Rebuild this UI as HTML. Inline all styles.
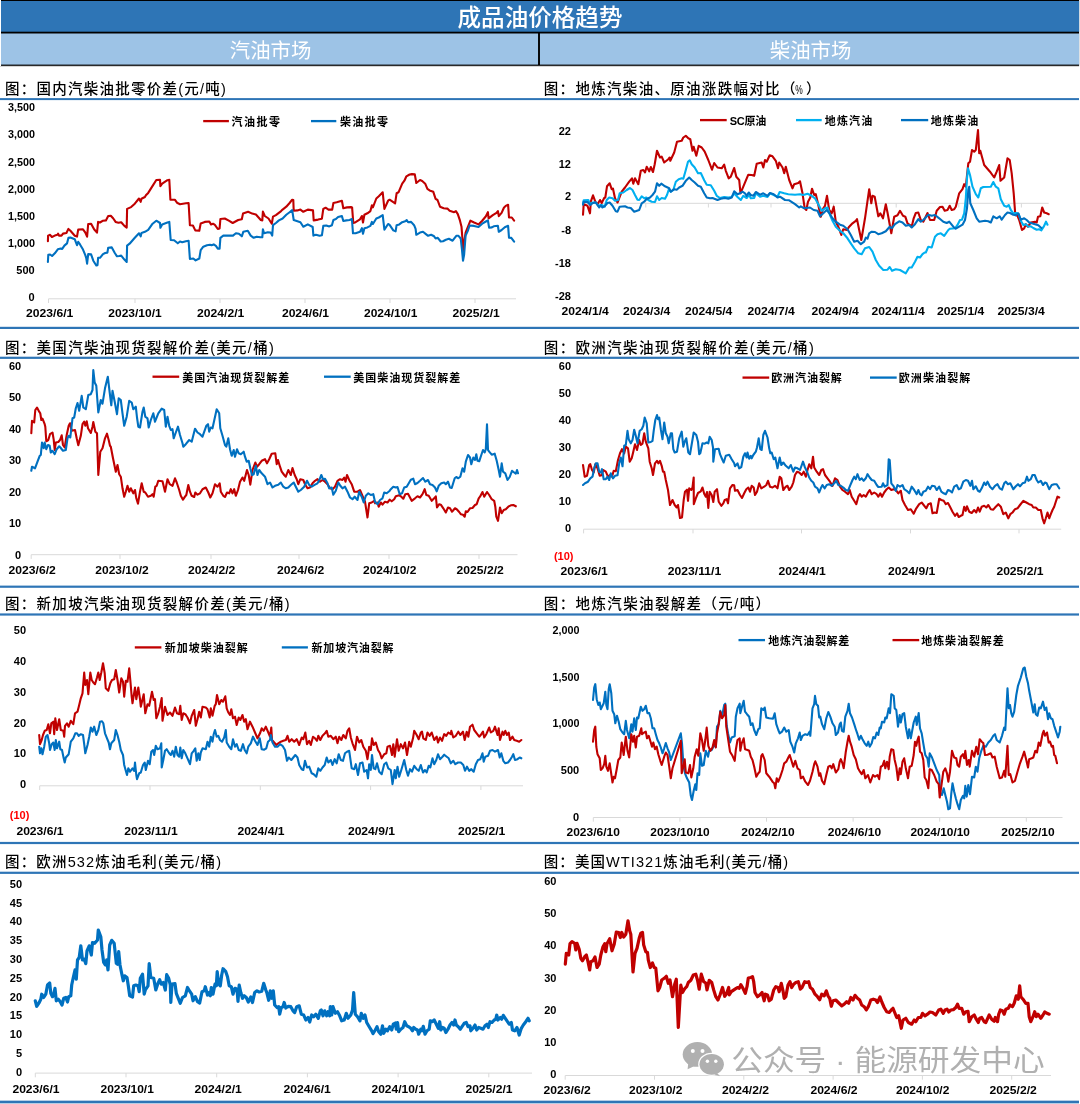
<!DOCTYPE html>
<html lang="zh-CN"><head><meta charset="utf-8"><title>成品油价格趋势</title>
<style>html,body{margin:0;padding:0;background:#fff}body{width:1080px;height:1104px;overflow:hidden}</style></head>
<body>
<svg width="1080" height="1104" viewBox="0 0 1080 1104" style="display:block;font-family:'Liberation Sans','Noto Sans CJK SC',sans-serif">
<rect width="1080" height="1104" fill="#fff"/>
<rect x="0" y="0" width="1079.1" height="33" fill="#000"/>
<rect x="1" y="1" width="1078.1" height="30.7" fill="#2E75B6"/>
<rect x="0" y="33" width="1079.1" height="32.9" fill="#000"/>
<rect x="0" y="65.9" width="1079.1" height="0.7" fill="#bbb"/>
<rect x="1" y="33.5" width="537.05" height="31.1" fill="#9DC3E6"/>
<rect x="539.95" y="33.5" width="539.15" height="31.1" fill="#9DC3E6"/>
<rect x="0" y="0" width="1" height="66" fill="#fff"/>
<text x="540.00" y="25.90" font-size="23.5" font-weight="500" fill="#fff" text-anchor="middle" textLength="165.00" lengthAdjust="spacingAndGlyphs">成品油价格趋势</text>
<text x="270.60" y="57.50" font-size="20.5" font-weight="400" fill="#fff" text-anchor="middle" textLength="81.70" lengthAdjust="spacingAndGlyphs">汽油市场</text>
<text x="810.60" y="57.50" font-size="20.5" font-weight="400" fill="#fff" text-anchor="middle" textLength="81.70" lengthAdjust="spacingAndGlyphs">柴油市场</text>
<rect x="0" y="98.10" width="1079" height="2.0" fill="#2E75B6"/>
<rect x="0" y="326.80" width="1079" height="2.2" fill="#2E75B6"/>
<rect x="0" y="356.70" width="1079" height="2.2" fill="#2E75B6"/>
<rect x="0" y="585.60" width="1079" height="2.2" fill="#2E75B6"/>
<rect x="0" y="613.40" width="1079" height="2.2" fill="#2E75B6"/>
<rect x="0" y="841.90" width="1079" height="2.2" fill="#2E75B6"/>
<rect x="0" y="871.70" width="1079" height="2.2" fill="#2E75B6"/>
<rect x="0" y="1100.65" width="1079" height="2.7" fill="#2E75B6"/>
<text x="5.00" y="94.40" font-size="14.5" font-weight="500" fill="#000" text-anchor="start" textLength="220.80" lengthAdjust="spacing">图：国内汽柴油批零价差<tspan font-weight="400">(</tspan>元<tspan font-weight="400">/</tspan>吨<tspan font-weight="400">)</tspan></text>
<text x="543.80" y="94.40" font-size="14.5" font-weight="500" fill="#000" text-anchor="start" textLength="276.70" lengthAdjust="spacing">图：地炼汽柴油、原油涨跌幅对比（<tspan font-size="12" dx="-1.5" textLength="7.5" lengthAdjust="spacingAndGlyphs">%</tspan><tspan dx="2">）</tspan></text>
<text x="5.00" y="353.10" font-size="14.5" font-weight="500" fill="#000" text-anchor="start" textLength="268.80" lengthAdjust="spacing">图：美国汽柴油现货裂解价差<tspan font-weight="400">(</tspan>美元<tspan font-weight="400">/</tspan>桶<tspan font-weight="400">)</tspan></text>
<text x="543.80" y="353.10" font-size="14.5" font-weight="500" fill="#000" text-anchor="start" textLength="270.00" lengthAdjust="spacing">图：欧洲汽柴油现货裂解价差<tspan font-weight="400">(</tspan>美元<tspan font-weight="400">/</tspan>桶<tspan font-weight="400">)</tspan></text>
<text x="5.00" y="609.40" font-size="14.5" font-weight="500" fill="#000" text-anchor="start" textLength="284.60" lengthAdjust="spacing">图：新加坡汽柴油现货裂解价差<tspan font-weight="400">(</tspan>美元<tspan font-weight="400">/</tspan>桶<tspan font-weight="400">)</tspan></text>
<text x="543.80" y="609.40" font-size="14.5" font-weight="500" fill="#000" text-anchor="start" textLength="226.20" lengthAdjust="spacing">图：地炼汽柴油裂解差（元<tspan font-weight="400">/</tspan>吨）</text>
<text x="5.00" y="867.40" font-size="14.5" font-weight="500" fill="#000" text-anchor="start" textLength="216.00" lengthAdjust="spacing">图：欧洲<tspan font-weight="400">532</tspan>炼油毛利<tspan font-weight="400">(</tspan>美元<tspan font-weight="400">/</tspan>桶<tspan font-weight="400">)</tspan></text>
<text x="543.80" y="867.40" font-size="14.5" font-weight="500" fill="#000" text-anchor="start" textLength="244.40" lengthAdjust="spacing">图：美国<tspan font-weight="400">WTI321</tspan>炼油毛利<tspan font-weight="400">(</tspan>美元<tspan font-weight="400">/</tspan>桶<tspan font-weight="400">)</tspan></text>
<text x="34.90" y="111.36" font-size="11" font-weight="700" fill="#000" text-anchor="end" textLength="26.90" lengthAdjust="spacingAndGlyphs">3,500</text>
<text x="34.90" y="138.46" font-size="11" font-weight="700" fill="#000" text-anchor="end" textLength="26.90" lengthAdjust="spacingAndGlyphs">3,000</text>
<text x="34.90" y="165.66" font-size="11" font-weight="700" fill="#000" text-anchor="end" textLength="26.90" lengthAdjust="spacingAndGlyphs">2,500</text>
<text x="34.90" y="192.76" font-size="11" font-weight="700" fill="#000" text-anchor="end" textLength="26.90" lengthAdjust="spacingAndGlyphs">2,000</text>
<text x="34.90" y="219.96" font-size="11" font-weight="700" fill="#000" text-anchor="end" textLength="26.90" lengthAdjust="spacingAndGlyphs">1,500</text>
<text x="34.90" y="247.06" font-size="11" font-weight="700" fill="#000" text-anchor="end" textLength="26.90" lengthAdjust="spacingAndGlyphs">1,000</text>
<text x="34.70" y="274.26" font-size="11" font-weight="700" fill="#000" text-anchor="end">500</text>
<text x="34.70" y="301.46" font-size="11" font-weight="700" fill="#000" text-anchor="end">0</text>
<path d="M48.5 298.8H516M48.5 298.8v4.2M135.0 298.8v4.2M220.0 298.8v4.2M305.0 298.8v4.2M390.0 298.8v4.2M475.0 298.8v4.2" stroke="#D9D9D9" stroke-width="1" fill="none"/>
<text x="49.70" y="317.46" font-size="11" font-weight="700" fill="#000" text-anchor="middle" textLength="47.20" lengthAdjust="spacingAndGlyphs">2023/6/1</text>
<text x="135.00" y="317.46" font-size="11" font-weight="700" fill="#000" text-anchor="middle" textLength="53.30" lengthAdjust="spacingAndGlyphs">2023/10/1</text>
<text x="220.70" y="317.46" font-size="11" font-weight="700" fill="#000" text-anchor="middle" textLength="47.20" lengthAdjust="spacingAndGlyphs">2024/2/1</text>
<text x="305.50" y="317.46" font-size="11" font-weight="700" fill="#000" text-anchor="middle" textLength="47.20" lengthAdjust="spacingAndGlyphs">2024/6/1</text>
<text x="390.70" y="317.46" font-size="11" font-weight="700" fill="#000" text-anchor="middle" textLength="53.30" lengthAdjust="spacingAndGlyphs">2024/10/1</text>
<text x="476.20" y="317.46" font-size="11" font-weight="700" fill="#000" text-anchor="middle" textLength="47.20" lengthAdjust="spacingAndGlyphs">2025/2/1</text>
<path d="M203.2 121.1H228.89999999999998" stroke="#C00000" stroke-width="2.3"/>
<text x="231.50" y="125.96" font-size="11" font-weight="700" fill="#000" text-anchor="start" textLength="48.50" lengthAdjust="spacing">汽油批零</text>
<path d="M311 121.1H336.3" stroke="#0070C0" stroke-width="2.3"/>
<text x="339.90" y="125.96" font-size="11" font-weight="700" fill="#000" text-anchor="start" textLength="48.10" lengthAdjust="spacing">柴油批零</text>
<polyline points="47.9,241.2 48.1,235.6 50.1,234.8 51.9,237.0 54.8,235.6 57.5,234.8 58.1,233.6 59.0,235.6 61.5,235.6 63.0,233.6 66.4,233.0 68.4,228.9 70.4,230.8 74.8,235.8 77.0,236.6 78.2,229.6 83.0,229.3 85.2,232.3 87.1,236.7 88.2,224.0 91.1,223.7 94.1,229.3 97.0,232.6 98.1,221.9 100.0,222.5 103.0,220.7 105.9,220.4 108.2,216.0 110.8,215.7 113.3,218.5 115.6,221.9 118.5,222.8 121.2,222.2 124.4,225.9 126.7,227.6 127.1,208.9 131.1,207.1 134.8,203.7 139.0,198.5 140.7,201.8 141.5,198.8 144.9,197.0 145.9,195.3 148.2,192.9 152.6,185.9 156.3,180.0 160.0,179.8 160.4,186.1 162.2,183.7 167.4,180.2 169.3,179.8 170.4,199.7 174.8,199.7 177.0,202.7 180.0,204.2 185.9,203.3 188.6,203.0 189.9,225.2 192.9,225.5 195.3,230.4 199.3,230.8 200.7,223.4 204.8,221.9 209.3,221.5 211.0,224.4 213.0,223.7 214.9,224.9 217.8,229.0 219.6,228.4 220.4,219.0 224.8,218.5 228.8,220.7 232.7,223.0 238.2,220.0 241.8,219.3 243.0,213.6 248.1,211.8 252.2,213.6 255.9,214.5 260.8,220.0 262.3,220.4 262.9,211.6 264.8,216.0 268.5,218.5 271.8,223.7 273.0,216.6 275.9,215.1 281.1,211.1 282.6,209.6 286.3,206.7 289.6,203.0 292.2,199.7 293.3,200.0 293.7,210.7 297.4,210.4 300.4,209.6 303.3,211.8 307.8,209.6 313.0,210.4 313.7,220.4 318.1,219.6 321.9,218.7 323.3,208.9 325.6,207.7 328.5,209.6 332.2,209.6 333.4,203.0 336.7,202.2 341.9,200.7 343.3,208.2 347.0,207.4 351.1,207.1 352.1,207.4 353.3,223.0 355.6,222.2 360.0,219.3 361.9,216.0 363.0,222.5 364.4,214.8 367.4,213.3 370.4,211.1 371.9,205.2 372.9,207.4 376.3,198.5 378.8,196.3 382.7,192.3 384.4,208.9 388.1,200.7 389.6,199.7 395.1,203.3 396.6,193.3 398.5,192.3 402.2,183.7 404.4,180.7 406.4,176.3 409.6,174.5 411.9,174.1 414.8,174.4 416.3,183.0 420.0,180.0 422.2,181.0 425.2,183.7 427.4,188.9 429.6,190.4 433.3,191.8 435.6,198.8 437.5,200.0 440.0,206.7 443.7,208.2 447.4,208.6 449.6,210.7 454.1,212.2 455.9,211.1 457.8,214.1 460.0,220.7 461.5,226.7 462.4,238.5 463.0,251.8 464.1,243.0 465.6,232.6 467.7,227.4 470.4,220.7 474.1,222.5 478.5,224.4 482.2,220.7 485.9,216.3 487.9,212.2 488.6,218.4 492.8,215.2 496.5,212.9 497.9,211.0 498.8,216.1 501.6,212.9 503.9,207.8 505.7,205.9 508.1,204.8 509.0,217.5 511.8,217.5 514.1,220.7" fill="none" stroke="#C00000" stroke-width="2.1" stroke-linejoin="round" stroke-linecap="round"/>
<polyline points="47.9,261.9 48.3,254.8 50.1,254.5 52.1,256.0 54.8,253.3 57.8,249.3 60.7,248.6 62.2,248.9 64.4,245.6 67.0,243.4 68.4,237.9 70.4,237.6 74.8,239.3 77.0,245.2 78.2,241.8 80.0,244.4 83.0,249.6 85.2,254.8 86.2,257.8 87.1,263.7 88.2,254.1 91.1,254.4 93.3,260.7 96.3,265.5 97.5,265.2 98.1,257.8 100.0,257.8 103.0,254.1 105.2,253.0 107.4,252.6 108.2,247.7 111.8,247.4 114.8,253.0 117.0,256.3 119.3,256.0 121.2,255.6 124.4,259.6 126.7,261.9 127.1,245.6 129.6,243.7 134.8,237.8 139.0,233.3 140.7,236.3 141.5,232.9 144.9,231.8 148.2,229.9 152.6,223.7 156.3,220.7 160.0,223.0 160.4,227.8 162.2,224.4 167.4,222.5 169.3,221.9 170.7,240.0 174.1,240.3 177.8,243.3 180.0,241.5 182.2,242.2 185.9,241.2 188.6,240.7 189.9,259.0 193.3,258.5 195.6,260.4 199.3,258.5 200.7,250.1 203.3,246.7 207.0,245.2 210.0,244.7 211.5,245.2 213.7,244.4 215.9,245.9 217.8,248.6 219.6,248.6 220.4,237.8 223.3,235.6 233.0,235.6 235.9,233.3 238.9,233.8 241.8,236.3 243.3,231.8 247.8,230.8 250.7,235.6 253.7,237.8 256.7,236.7 260.4,237.3 262.3,237.3 262.9,229.3 264.1,233.3 267.8,232.3 270.7,232.6 272.2,235.6 273.0,225.2 275.9,223.0 278.9,220.4 282.6,218.5 286.3,214.8 289.6,212.2 292.2,210.1 293.7,220.0 296.7,221.0 300.4,222.2 303.3,226.7 307.8,224.4 312.7,227.0 313.4,235.6 315.9,234.8 319.6,235.8 321.9,235.3 323.3,225.9 326.3,225.5 329.3,226.4 331.9,225.2 333.4,220.0 335.9,219.0 338.1,217.0 341.9,216.0 343.3,221.0 346.3,220.4 349.6,220.0 351.9,219.0 353.0,233.3 355.6,233.3 360.0,231.8 361.9,228.2 363.0,233.8 364.4,228.2 367.4,227.4 370.4,225.9 371.9,221.9 372.9,224.0 376.3,218.5 378.8,217.5 382.7,215.1 384.4,229.6 388.1,224.0 389.6,224.9 393.3,230.4 395.6,231.4 396.6,225.2 399.3,224.4 402.2,222.2 405.9,221.0 406.7,220.0 408.1,222.2 411.1,221.9 414.1,225.2 415.6,228.9 416.3,234.8 420.0,232.6 423.0,231.8 425.9,234.1 428.1,235.8 431.1,234.8 434.1,236.3 435.6,238.5 437.8,237.8 440.7,241.5 443.0,241.2 445.9,239.7 448.9,238.8 452.6,240.7 456.3,235.8 458.5,235.8 460.7,238.5 461.9,248.9 463.0,260.7 464.1,254.8 465.6,235.6 467.7,231.1 469.6,225.5 474.1,225.9 478.5,227.0 482.2,223.7 485.9,221.5 487.9,220.4 489.1,227.7 491.9,227.4 493.7,226.3 497.9,225.8 498.8,231.8 501.6,230.0 504.8,227.2 508.1,225.8 509.0,237.6 511.3,237.9 514.1,241.6" fill="none" stroke="#0070C0" stroke-width="2.1" stroke-linejoin="round" stroke-linecap="round"/>
<text x="571.00" y="135.26" font-size="11" font-weight="700" fill="#000" text-anchor="end">22</text>
<text x="571.00" y="167.96" font-size="11" font-weight="700" fill="#000" text-anchor="end">12</text>
<text x="571.00" y="200.46" font-size="11" font-weight="700" fill="#000" text-anchor="end">2</text>
<text x="571.00" y="233.56" font-size="11" font-weight="700" fill="#000" text-anchor="end">-8</text>
<text x="571.00" y="266.86" font-size="11" font-weight="700" fill="#000" text-anchor="end">-18</text>
<text x="571.00" y="299.76" font-size="11" font-weight="700" fill="#000" text-anchor="end">-28</text>
<path d="M583.2 203.3H1048.7M583.2 203.3v4.2M645.8 203.3v4.2M708.4 203.3v4.2M771.0 203.3v4.2M833.6 203.3v4.2M896.2 203.3v4.2M958.8 203.3v4.2M1021.4 203.3v4.2" stroke="#D9D9D9" stroke-width="1" fill="none"/>
<text x="585.20" y="314.66" font-size="11" font-weight="700" fill="#000" text-anchor="middle" textLength="47.20" lengthAdjust="spacingAndGlyphs">2024/1/4</text>
<text x="646.70" y="314.66" font-size="11" font-weight="700" fill="#000" text-anchor="middle" textLength="47.20" lengthAdjust="spacingAndGlyphs">2024/3/4</text>
<text x="708.70" y="314.66" font-size="11" font-weight="700" fill="#000" text-anchor="middle" textLength="47.20" lengthAdjust="spacingAndGlyphs">2024/5/4</text>
<text x="771.20" y="314.66" font-size="11" font-weight="700" fill="#000" text-anchor="middle" textLength="47.20" lengthAdjust="spacingAndGlyphs">2024/7/4</text>
<text x="835.20" y="314.66" font-size="11" font-weight="700" fill="#000" text-anchor="middle" textLength="47.20" lengthAdjust="spacingAndGlyphs">2024/9/4</text>
<text x="898.20" y="314.66" font-size="11" font-weight="700" fill="#000" text-anchor="middle" textLength="53.30" lengthAdjust="spacingAndGlyphs">2024/11/4</text>
<text x="960.70" y="314.66" font-size="11" font-weight="700" fill="#000" text-anchor="middle" textLength="47.20" lengthAdjust="spacingAndGlyphs">2025/1/4</text>
<text x="1021.20" y="314.66" font-size="11" font-weight="700" fill="#000" text-anchor="middle" textLength="47.20" lengthAdjust="spacingAndGlyphs">2025/3/4</text>
<path d="M700 120.1H726.7" stroke="#C00000" stroke-width="2.3"/>
<text x="729.70" y="124.96" font-size="11" font-weight="700" fill="#000" text-anchor="start" textLength="36.60" lengthAdjust="spacing">SC原油</text>
<path d="M796 120.1H821.7" stroke="#00B0F0" stroke-width="2.3"/>
<text x="824.70" y="124.96" font-size="11" font-weight="700" fill="#000" text-anchor="start" textLength="47.60" lengthAdjust="spacing">地炼汽油</text>
<path d="M901 120.1H928.2" stroke="#0070C0" stroke-width="2.3"/>
<text x="930.70" y="124.96" font-size="11" font-weight="700" fill="#000" text-anchor="start" textLength="47.60" lengthAdjust="spacing">地炼柴油</text>
<polyline points="583.0,214.7 583.7,204.2 587.5,205.8 590.0,213.3 590.8,201.7 593.0,195.3 595.3,201.7 597.5,204.2 600.0,200.0 601.7,203.0 604.2,198.0 605.3,197.5 607.0,186.3 609.7,183.3 611.7,189.2 613.0,188.7 615.0,198.3 617.5,202.5 621.7,191.7 625.0,187.5 629.2,181.7 632.0,178.3 633.3,183.7 635.0,178.3 638.3,184.2 640.8,170.8 643.3,170.0 645.0,172.5 646.7,166.7 649.2,171.3 650.8,167.0 653.0,172.0 654.7,164.2 657.0,150.8 660.0,157.5 661.7,156.7 664.2,162.5 668.3,159.2 669.7,157.5 670.3,160.8 674.2,152.5 677.0,141.7 681.7,140.8 683.3,137.5 685.8,135.8 688.3,138.3 690.3,139.2 692.5,150.8 693.7,146.7 696.3,155.8 698.7,145.8 701.7,147.5 704.7,151.7 708.3,160.0 712.0,169.7 714.2,163.0 717.5,167.5 721.7,168.3 724.2,164.7 725.8,170.8 728.7,178.3 730.8,176.7 734.2,168.0 736.3,176.7 739.2,180.0 740.5,193.3 743.3,186.7 748.3,174.7 751.7,175.0 754.2,175.8 756.7,163.7 761.7,162.5 763.3,167.5 765.0,160.0 766.7,161.7 769.7,155.3 772.5,156.3 775.8,160.8 778.0,168.3 779.2,162.5 782.5,167.5 784.2,173.3 785.8,166.7 789.2,180.0 792.5,188.3 794.2,184.2 798.3,183.0 800.0,181.3 802.5,193.3 804.7,208.3 806.3,210.0 808.0,201.7 810.3,197.5 812.0,188.7 814.2,195.0 815.8,194.2 818.3,205.0 820.8,216.7 823.3,208.3 825.0,205.8 827.0,195.8 829.2,210.0 831.7,213.3 833.7,206.7 835.8,221.7 838.3,226.7 841.3,235.0 843.3,229.2 847.0,230.0 849.2,226.7 852.5,223.3 855.8,220.8 857.0,219.2 859.2,230.0 861.3,240.0 865.0,218.3 869.2,189.2 871.3,203.3 872.5,195.8 874.7,196.7 878.3,216.3 880.3,213.3 883.0,218.3 885.8,204.2 887.5,212.5 891.3,233.3 894.2,216.7 897.5,215.3 900.0,210.8 903.0,215.8 905.3,216.7 907.5,223.3 910.0,225.0 911.7,226.7 913.7,218.3 915.8,213.0 918.3,212.5 920.8,220.0 923.3,221.7 925.0,218.3 927.5,213.0 930.0,220.0 934.2,220.0 936.7,210.8 940.0,207.0 942.5,206.7 944.7,210.8 947.5,210.0 949.7,205.8 951.7,210.0 954.2,209.2 955.8,206.7 959.2,193.3 962.5,189.2 964.2,184.2 965.8,186.7 968.3,163.3 970.0,161.7 972.0,150.0 974.2,151.7 975.8,150.0 978.0,130.0 979.2,153.3 980.3,150.8 984.2,165.0 990.0,171.7 994.2,177.5 996.7,171.7 999.2,165.0 1000.5,180.8 1004.2,177.5 1007.5,158.3 1009.7,160.0 1011.7,173.3 1013.7,193.3 1015.3,215.0 1017.5,215.8 1019.2,220.0 1022.0,230.0 1024.2,228.3 1025.8,224.2 1028.0,226.7 1030.8,222.5 1035.0,221.7 1036.7,222.5 1038.0,216.7 1040.3,216.3 1042.2,207.5 1044.2,212.5 1046.7,213.3 1048.7,214.2" fill="none" stroke="#C00000" stroke-width="2.1" stroke-linejoin="round" stroke-linecap="round"/>
<polyline points="583.0,203.3 583.7,200.3 588.3,200.0 590.0,204.2 592.5,202.5 595.8,202.5 598.3,205.8 601.7,205.0 604.7,206.7 606.7,200.0 609.2,197.5 612.5,198.3 615.0,200.8 618.0,200.0 619.7,193.3 623.3,192.5 626.7,190.0 630.0,188.0 632.5,190.0 635.0,195.0 637.5,199.7 639.2,200.0 641.7,196.3 644.2,198.3 646.3,197.5 648.3,200.0 651.7,201.7 655.0,202.0 657.0,196.3 659.2,200.0 661.7,198.0 665.0,198.7 667.0,195.0 668.7,189.7 670.8,191.7 673.3,190.0 675.8,181.7 678.7,179.2 681.7,178.3 683.3,178.7 685.8,170.0 688.0,161.7 689.7,160.3 691.7,164.2 694.7,167.5 698.0,173.3 700.8,173.0 704.2,180.3 706.7,184.7 710.8,185.3 714.2,190.8 716.7,195.8 720.0,198.0 724.2,197.0 728.3,197.5 731.7,197.0 734.2,193.3 737.5,197.0 740.8,200.0 743.3,195.8 746.7,198.0 749.2,194.7 750.8,198.3 754.2,198.0 755.8,193.3 760.0,196.7 763.3,195.8 767.5,197.0 770.0,193.3 774.2,195.3 777.5,196.7 779.7,192.0 784.2,193.3 788.3,194.2 795.0,194.7 800.0,194.2 803.3,195.0 807.5,193.7 811.7,195.8 815.0,198.3 818.3,204.2 821.7,210.8 825.0,208.3 827.5,207.5 830.0,215.0 832.5,220.8 835.8,226.7 840.0,230.8 843.3,233.3 847.5,238.3 850.8,243.3 854.2,248.3 858.3,253.3 861.7,254.2 865.0,248.3 869.2,247.0 872.5,251.7 875.8,260.0 879.2,265.8 883.3,270.0 887.5,269.7 889.7,267.0 892.0,270.8 895.8,269.2 900.0,270.0 905.8,273.3 909.2,267.5 911.7,267.5 915.0,261.7 917.5,256.7 920.0,257.5 922.5,254.2 924.7,252.5 925.8,252.5 928.3,246.7 931.7,247.5 935.0,236.7 937.5,234.2 940.8,233.3 944.2,235.8 948.3,230.0 950.0,228.7 955.0,228.3 957.5,225.0 960.0,220.0 962.0,219.7 964.2,213.3 965.8,198.3 967.0,178.3 968.0,168.3 970.0,175.0 972.5,186.7 975.8,194.2 978.3,197.5 980.8,188.3 983.3,187.0 990.8,186.7 993.3,182.0 995.8,186.7 998.3,188.3 1000.8,199.2 1004.2,205.8 1006.7,206.7 1008.7,205.0 1010.8,210.0 1013.3,213.3 1016.7,213.0 1018.7,214.2 1020.8,220.8 1023.3,225.0 1025.8,224.2 1028.3,226.7 1030.8,226.3 1033.3,228.0 1036.7,229.7 1039.2,229.2 1041.3,230.3 1043.7,226.7 1046.0,221.7 1047.5,224.7" fill="none" stroke="#00B0F0" stroke-width="2.1" stroke-linejoin="round" stroke-linecap="round"/>
<polyline points="583.0,204.7 583.7,201.7 587.5,202.0 590.3,205.0 593.0,203.0 595.8,202.5 599.2,207.5 600.8,205.3 602.5,207.5 605.0,205.8 607.5,203.0 609.7,202.5 612.5,205.8 615.8,211.3 617.5,211.7 619.7,206.7 625.0,206.3 627.5,207.5 630.8,208.0 634.2,211.7 639.2,210.0 641.7,203.3 644.2,201.7 646.3,199.2 650.0,197.5 652.5,195.0 655.0,191.7 657.0,183.3 659.2,185.8 661.3,183.7 665.0,186.3 669.2,188.3 670.8,191.7 674.2,189.2 676.7,189.7 679.2,187.5 682.5,185.8 685.8,180.8 689.2,177.5 691.7,180.0 694.7,182.5 698.0,185.8 700.8,186.7 704.2,193.3 706.7,197.5 710.0,198.3 712.5,198.0 717.5,200.0 720.8,198.7 725.0,198.0 728.3,198.7 731.7,197.5 734.2,191.3 737.5,194.2 740.0,193.3 742.5,191.7 745.0,193.3 746.7,195.8 748.7,192.5 750.8,195.0 753.3,195.8 755.8,192.0 760.0,194.7 763.3,193.3 767.5,195.8 770.0,193.0 773.7,194.2 777.5,197.5 780.0,196.7 785.0,200.0 789.2,200.3 795.0,204.2 799.2,207.5 800.8,206.3 804.2,208.3 810.0,207.5 813.7,210.0 817.5,210.8 820.0,216.3 823.3,213.3 826.7,210.0 830.0,214.2 832.5,218.3 835.8,221.7 840.0,224.7 843.3,225.8 847.5,229.2 850.8,235.0 854.2,241.7 857.5,240.8 860.8,244.2 864.2,241.7 865.8,237.5 867.5,238.7 869.2,233.3 871.7,231.7 875.0,232.0 878.3,234.2 881.7,233.3 885.8,231.3 889.7,226.7 891.7,228.3 895.0,224.2 899.2,221.3 902.5,222.5 905.8,225.8 909.2,225.0 911.7,227.5 915.0,224.2 918.3,219.2 920.8,221.7 923.3,220.0 928.3,214.7 931.7,215.8 935.0,215.0 939.2,218.3 943.3,221.7 946.7,223.0 949.2,221.7 953.3,226.7 955.8,228.7 959.2,226.7 962.5,224.7 965.0,220.0 967.0,208.3 968.3,190.0 969.2,186.7 970.3,203.3 973.3,210.0 976.7,218.3 979.2,221.7 985.0,220.8 988.3,221.3 990.8,222.5 993.3,216.3 996.7,218.3 999.7,216.3 1001.7,219.7 1005.0,215.0 1007.5,212.5 1010.0,213.0 1013.3,214.7 1015.8,215.3 1018.3,213.3 1020.8,219.7 1024.2,218.3 1026.7,220.0 1029.2,222.5 1031.7,223.3 1035.0,224.2 1038.3,225.3 1041.3,228.0" fill="none" stroke="#0070C0" stroke-width="2.1" stroke-linejoin="round" stroke-linecap="round"/>
<text x="21.20" y="369.56" font-size="11" font-weight="700" fill="#000" text-anchor="end">60</text>
<text x="21.20" y="401.11" font-size="11" font-weight="700" fill="#000" text-anchor="end">50</text>
<text x="21.20" y="432.66" font-size="11" font-weight="700" fill="#000" text-anchor="end">40</text>
<text x="21.20" y="464.21" font-size="11" font-weight="700" fill="#000" text-anchor="end">30</text>
<text x="21.20" y="495.76" font-size="11" font-weight="700" fill="#000" text-anchor="end">20</text>
<text x="21.20" y="527.31" font-size="11" font-weight="700" fill="#000" text-anchor="end">10</text>
<text x="21.20" y="558.86" font-size="11" font-weight="700" fill="#000" text-anchor="end">0</text>
<path d="M31.2 554.7H517.5M31.2 554.7v4.2M120.0 554.7v4.2M211.0 554.7v4.2M299.0 554.7v4.2M389.0 554.7v4.2M479.0 554.7v4.2" stroke="#D9D9D9" stroke-width="1" fill="none"/>
<text x="32.20" y="573.66" font-size="11" font-weight="700" fill="#000" text-anchor="middle" textLength="47.20" lengthAdjust="spacingAndGlyphs">2023/6/2</text>
<text x="122.00" y="573.66" font-size="11" font-weight="700" fill="#000" text-anchor="middle" textLength="53.30" lengthAdjust="spacingAndGlyphs">2023/10/2</text>
<text x="211.70" y="573.66" font-size="11" font-weight="700" fill="#000" text-anchor="middle" textLength="47.20" lengthAdjust="spacingAndGlyphs">2024/2/2</text>
<text x="300.70" y="573.66" font-size="11" font-weight="700" fill="#000" text-anchor="middle" textLength="47.20" lengthAdjust="spacingAndGlyphs">2024/6/2</text>
<text x="389.70" y="573.66" font-size="11" font-weight="700" fill="#000" text-anchor="middle" textLength="53.30" lengthAdjust="spacingAndGlyphs">2024/10/2</text>
<text x="480.20" y="573.66" font-size="11" font-weight="700" fill="#000" text-anchor="middle" textLength="47.20" lengthAdjust="spacingAndGlyphs">2025/2/2</text>
<path d="M152.5 376.70000000000005H179.2" stroke="#C00000" stroke-width="2.3"/>
<text x="182.20" y="381.56" font-size="11" font-weight="700" fill="#000" text-anchor="start" textLength="107.10" lengthAdjust="spacing">美国汽油现货裂解差</text>
<path d="M324 376.70000000000005H350.7" stroke="#0070C0" stroke-width="2.3"/>
<text x="353.20" y="381.56" font-size="11" font-weight="700" fill="#000" text-anchor="start" textLength="107.10" lengthAdjust="spacing">美国柴油现货裂解差</text>
<polyline points="31.3,433.3 32.0,420.8 34.2,422.5 35.3,410.0 37.0,407.5 39.2,411.7 40.3,413.3 41.3,420.0 42.5,418.7 44.7,424.2 45.3,426.7 46.3,441.3 48.3,440.0 50.0,434.2 52.5,432.5 53.7,439.7 54.7,450.0 55.8,442.5 58.3,442.0 60.0,440.0 61.7,435.3 63.0,445.0 64.7,447.5 66.7,435.0 68.7,425.8 70.0,423.3 71.7,430.8 75.0,430.0 76.7,438.3 78.3,445.3 80.8,435.8 82.5,424.2 84.2,421.7 85.3,425.8 86.7,421.3 88.0,428.3 90.8,433.0 92.5,426.7 93.3,422.0 95.3,431.7 97.0,433.3 98.3,475.0 100.3,451.7 102.5,448.3 105.0,438.3 107.0,433.7 108.7,440.0 110.0,445.8 110.8,446.7 113.0,458.3 115.8,471.7 117.5,465.0 119.2,474.2 120.8,476.7 122.5,488.3 124.2,496.7 125.8,491.7 127.5,485.8 129.2,491.7 130.8,488.3 133.3,493.3 135.0,490.0 136.3,498.3 138.0,503.7 140.0,491.7 141.7,483.3 143.7,491.7 145.3,492.5 148.0,496.7 150.8,495.8 152.5,494.2 153.7,496.7 155.3,486.7 156.7,485.8 158.3,480.8 162.5,481.3 165.0,491.7 167.5,479.2 169.7,484.2 172.5,485.8 175.0,478.3 176.7,482.5 179.2,490.0 180.8,495.8 183.0,499.7 185.0,496.7 186.3,495.0 188.3,485.0 190.0,491.7 191.7,495.8 194.2,497.0 195.3,492.5 197.5,494.7 200.0,493.3 202.5,489.2 205.8,487.5 208.3,492.5 210.3,497.5 212.5,493.3 215.0,484.2 217.5,486.7 219.7,483.3 220.8,491.7 223.3,495.8 225.0,497.0 227.0,492.5 229.2,493.3 230.8,489.2 232.5,493.3 234.2,489.2 235.8,495.8 238.0,490.0 240.0,481.7 242.5,477.5 244.2,480.8 247.0,470.0 248.7,475.0 250.3,484.7 252.5,470.0 255.3,462.5 257.0,466.7 259.2,464.2 261.7,460.8 265.0,459.2 267.0,463.3 269.2,459.2 271.7,453.7 275.3,453.3 276.7,464.2 278.0,460.0 280.0,466.7 281.7,471.7 284.2,475.0 285.8,476.7 288.3,470.0 290.8,475.0 292.5,468.0 294.7,475.0 296.7,479.2 298.3,484.2 300.3,479.2 303.3,480.0 305.0,484.2 307.5,488.3 310.0,487.5 312.5,483.3 315.0,480.8 317.5,479.2 320.0,481.7 322.5,480.0 325.0,481.7 327.5,484.2 330.0,488.3 332.5,489.2 335.0,486.7 337.5,480.8 340.0,479.2 342.5,480.0 344.2,477.5 345.5,481.7 347.0,475.0 349.2,480.0 351.7,484.2 354.2,491.7 357.5,491.7 360.0,490.0 362.5,495.8 365.0,501.7 367.5,517.5 369.2,503.3 371.7,502.5 374.2,500.8 375.0,503.3 377.5,502.5 378.7,506.7 380.8,502.5 382.5,504.7 385.0,501.7 387.5,502.5 389.7,499.7 391.7,501.3 394.2,499.2 395.8,496.3 399.2,495.3 401.3,496.7 403.3,498.7 405.3,494.2 408.0,493.7 410.0,497.5 411.7,500.8 415.0,498.3 417.5,496.3 420.0,497.5 422.5,494.2 424.7,489.2 426.3,495.0 428.7,495.8 431.7,500.8 434.2,498.3 435.8,496.3 437.0,507.5 439.2,504.2 440.8,504.7 443.3,508.3 445.8,512.5 448.0,507.5 450.0,508.3 452.0,511.7 455.0,508.3 456.7,509.2 459.2,512.0 460.8,514.2 463.0,514.7 464.7,516.7 465.8,511.3 467.5,512.0 470.0,508.3 472.5,508.0 475.0,505.0 476.7,504.2 478.7,498.3 480.0,496.7 482.5,492.0 484.2,496.7 487.0,492.0 489.2,495.0 491.7,499.2 494.2,500.8 495.3,506.7 496.3,516.7 498.0,520.8 500.0,507.5 501.7,513.3 503.7,510.0 505.8,509.2 508.3,506.7 510.8,505.3 513.3,505.0 515.8,506.3" fill="none" stroke="#C00000" stroke-width="2.1" stroke-linejoin="round" stroke-linecap="round"/>
<polyline points="31.3,470.8 32.0,466.7 35.0,468.3 37.5,461.7 39.7,455.8 40.8,455.0 42.0,442.5 43.7,448.3 44.7,442.5 46.3,449.2 48.0,445.0 49.7,445.8 50.8,452.5 52.5,450.8 54.7,454.2 56.7,449.2 59.2,446.3 60.8,448.0 63.0,450.8 65.8,450.0 67.5,438.3 68.7,435.8 70.3,437.5 72.5,418.3 74.2,417.5 75.8,408.3 77.5,403.0 79.2,410.8 81.7,395.8 83.3,407.5 85.8,409.2 88.3,395.0 90.8,394.2 92.5,390.0 93.3,370.0 94.7,382.5 96.3,385.8 98.3,412.5 100.8,400.0 102.5,403.7 105.0,388.3 107.8,376.7 109.7,392.5 111.3,405.3 112.5,390.8 114.7,401.7 117.0,414.2 118.7,398.3 120.8,400.0 122.5,413.3 124.2,425.8 126.7,416.7 129.2,400.8 131.7,402.5 133.3,409.2 135.8,406.7 137.0,417.5 138.3,426.7 140.0,427.5 142.5,411.7 143.7,407.5 145.3,416.7 147.5,418.3 148.7,427.5 150.8,420.0 153.3,413.3 155.0,421.7 158.3,413.3 161.7,408.7 164.2,410.0 165.8,426.7 167.5,416.7 169.2,425.8 170.8,430.0 172.5,429.2 173.7,438.3 175.8,432.5 178.0,426.7 180.0,435.0 182.5,443.3 183.3,446.7 185.8,444.2 189.2,440.0 191.7,441.7 195.0,428.7 197.5,432.5 200.0,434.2 202.5,436.7 206.3,425.8 208.0,424.2 209.2,431.7 210.8,427.5 212.5,428.3 214.7,418.3 216.7,409.2 219.2,413.3 220.3,428.3 222.5,435.8 225.0,445.0 226.3,446.7 228.3,438.3 230.0,449.2 231.7,455.8 233.7,450.0 235.0,456.7 237.0,449.2 238.7,453.3 240.8,454.2 243.7,451.7 245.0,456.7 246.7,461.7 248.7,460.8 250.3,468.3 252.0,475.0 253.7,474.2 255.8,465.8 257.5,475.0 259.2,470.0 261.7,473.3 265.0,476.7 267.5,484.2 270.0,482.5 272.5,487.5 275.0,485.8 278.3,484.7 280.8,482.5 283.3,486.7 285.8,488.3 288.3,487.5 290.8,485.0 293.7,482.5 295.8,486.7 298.3,491.7 300.8,490.0 304.2,486.7 307.0,480.8 309.2,485.0 311.7,486.7 315.0,484.7 317.5,483.3 319.2,480.3 321.3,475.0 323.0,479.2 325.0,478.7 327.5,483.3 329.2,488.3 331.7,487.5 333.3,494.7 335.8,490.8 338.3,482.5 340.3,485.8 342.5,488.3 345.0,486.7 347.5,491.7 350.0,497.5 352.5,499.2 354.7,496.7 357.5,500.0 359.2,491.7 361.7,496.7 363.7,502.5 365.8,495.8 368.3,493.3 370.8,495.0 373.3,494.2 375.0,501.7 377.5,504.2 380.0,500.0 382.5,498.3 384.2,492.5 386.7,493.3 389.2,491.3 390.8,489.2 393.3,486.7 395.8,487.5 397.5,487.0 399.7,494.2 402.0,493.3 404.2,487.5 406.7,486.7 409.2,482.5 410.8,479.7 413.3,478.7 415.0,484.2 417.5,483.0 420.0,480.8 423.0,478.0 425.3,481.7 428.0,480.0 430.0,484.2 432.5,485.0 435.0,487.5 436.7,491.3 438.7,485.8 441.3,483.3 444.2,482.5 445.8,484.2 448.0,481.7 450.0,487.5 451.7,488.0 454.7,478.3 456.3,477.0 458.3,478.3 460.3,476.7 462.5,468.3 464.2,471.7 465.8,461.7 468.0,455.0 470.0,457.5 471.3,464.2 473.3,457.5 475.0,460.0 476.3,454.2 477.5,460.8 479.2,461.3 481.3,455.0 483.0,450.0 484.7,452.5 485.8,449.2 487.0,424.2 488.0,450.0 489.2,451.7 491.7,454.7 494.7,453.7 496.7,460.8 498.7,470.0 500.0,476.7 501.7,463.3 503.0,471.7 505.3,473.3 507.5,480.0 509.7,477.0 512.0,470.8 514.2,472.5 515.8,473.7 517.0,470.0 518.0,473.3" fill="none" stroke="#0070C0" stroke-width="2.1" stroke-linejoin="round" stroke-linecap="round"/>
<text x="571.10" y="369.96" font-size="11" font-weight="700" fill="#000" text-anchor="end">60</text>
<text x="571.10" y="397.06" font-size="11" font-weight="700" fill="#000" text-anchor="end">50</text>
<text x="571.10" y="424.16" font-size="11" font-weight="700" fill="#000" text-anchor="end">40</text>
<text x="571.10" y="451.26" font-size="11" font-weight="700" fill="#000" text-anchor="end">30</text>
<text x="571.10" y="478.36" font-size="11" font-weight="700" fill="#000" text-anchor="end">20</text>
<text x="571.10" y="505.46" font-size="11" font-weight="700" fill="#000" text-anchor="end">10</text>
<text x="571.10" y="532.36" font-size="11" font-weight="700" fill="#000" text-anchor="end">0</text>
<text x="573.50" y="560.36" font-size="11" font-weight="700" fill="#FF0000" text-anchor="end">(10)</text>
<path d="M583.6 529.2H1061.2M583.6 529.2v4.2M693.0 529.2v4.2M801.5 529.2v4.2M910.5 529.2v4.2M1019.0 529.2v4.2" stroke="#D9D9D9" stroke-width="1" fill="none"/>
<text x="584.20" y="575.16" font-size="11" font-weight="700" fill="#000" text-anchor="middle" textLength="47.20" lengthAdjust="spacingAndGlyphs">2023/6/1</text>
<text x="694.50" y="575.16" font-size="11" font-weight="700" fill="#000" text-anchor="middle" textLength="53.30" lengthAdjust="spacingAndGlyphs">2023/11/1</text>
<text x="802.20" y="575.16" font-size="11" font-weight="700" fill="#000" text-anchor="middle" textLength="47.20" lengthAdjust="spacingAndGlyphs">2024/4/1</text>
<text x="911.70" y="575.16" font-size="11" font-weight="700" fill="#000" text-anchor="middle" textLength="47.20" lengthAdjust="spacingAndGlyphs">2024/9/1</text>
<text x="1020.00" y="575.16" font-size="11" font-weight="700" fill="#000" text-anchor="middle" textLength="47.20" lengthAdjust="spacingAndGlyphs">2025/2/1</text>
<path d="M742.5 377.6H769.2" stroke="#C00000" stroke-width="2.3"/>
<text x="771.20" y="382.46" font-size="11" font-weight="700" fill="#000" text-anchor="start" textLength="70.60" lengthAdjust="spacing">欧洲汽油裂解</text>
<path d="M870 377.6H896.7" stroke="#0070C0" stroke-width="2.3"/>
<text x="898.70" y="382.46" font-size="11" font-weight="700" fill="#000" text-anchor="start" textLength="71.60" lengthAdjust="spacing">欧洲柴油裂解</text>
<polyline points="583.0,465.0 584.7,476.7 587.0,475.8 589.2,465.0 590.3,464.2 592.0,470.0 593.7,472.5 595.3,464.2 597.5,468.3 599.7,475.8 601.7,475.3 603.3,470.0 605.8,471.7 608.0,476.7 610.0,475.0 612.0,476.7 613.7,470.8 615.8,471.3 618.0,460.0 620.0,453.3 622.0,449.2 624.2,453.3 625.8,446.7 628.0,448.3 629.7,461.7 631.7,458.3 633.0,453.0 635.0,444.2 637.0,450.0 639.2,440.0 640.8,445.0 642.5,443.7 644.2,433.3 645.8,441.7 648.3,448.3 649.7,461.7 651.7,468.3 653.0,475.0 655.0,463.3 657.0,460.8 658.3,463.3 660.0,460.8 661.7,465.8 663.0,471.7 664.2,471.7 665.8,480.0 668.0,490.0 670.0,505.0 672.5,500.0 674.7,505.0 676.7,507.5 678.0,505.0 680.0,518.0 682.0,517.5 683.7,500.0 685.0,491.7 687.0,489.7 688.0,500.8 689.2,488.3 691.3,490.0 692.5,487.5 693.7,477.5 693.8,504.2 695.8,498.3 698.0,493.0 700.8,491.3 702.5,487.5 704.2,493.7 705.8,496.7 707.0,492.0 708.3,508.0 709.7,491.7 711.7,495.0 713.3,502.0 714.7,491.7 717.0,489.2 718.7,501.7 721.3,505.8 723.3,503.3 724.7,500.0 726.7,499.2 728.0,503.3 730.0,488.3 732.5,485.0 734.2,485.3 735.0,490.8 737.5,490.0 740.0,495.0 742.0,498.0 744.2,493.3 746.3,489.2 748.3,487.5 750.0,491.7 751.7,485.8 753.7,487.5 755.0,495.0 757.0,491.7 759.2,483.3 761.3,488.3 764.2,486.7 766.3,485.0 768.0,480.8 770.0,486.7 772.5,487.5 775.0,485.8 777.5,488.3 779.7,476.7 781.3,478.3 783.3,490.0 785.8,486.7 787.5,485.8 789.2,490.0 791.7,486.7 793.3,482.5 795.0,475.0 797.0,471.7 799.2,472.5 801.7,475.0 803.7,471.7 805.8,476.7 807.5,470.0 809.2,464.2 811.3,468.3 813.0,456.7 814.2,467.5 816.7,471.7 819.2,475.0 821.3,470.0 823.0,469.2 825.0,475.0 827.5,478.3 830.0,481.7 832.5,485.8 835.0,478.3 837.5,480.0 840.0,486.7 842.5,490.0 845.0,491.7 848.0,494.2 849.7,490.0 851.7,496.7 854.2,500.8 856.3,504.2 858.3,496.7 860.0,494.2 861.7,496.7 863.7,495.0 865.8,496.7 868.0,492.5 869.7,490.0 871.7,494.2 874.2,492.5 876.7,494.2 878.3,496.7 880.3,493.3 882.0,496.7 884.2,492.5 886.7,489.2 888.7,487.5 891.3,490.0 893.7,489.2 895.8,490.0 898.3,493.3 900.8,490.8 902.5,500.0 905.0,505.0 908.0,510.0 910.8,509.2 913.7,513.7 915.8,509.2 919.2,504.2 921.7,502.5 926.3,508.3 928.3,504.2 930.8,503.3 932.5,513.3 934.7,512.5 936.7,513.0 939.2,498.7 941.3,500.0 943.7,500.8 945.8,504.2 948.0,503.0 950.0,506.7 952.5,511.7 955.0,515.8 957.0,513.3 958.7,517.0 960.8,515.8 962.5,515.0 964.2,506.7 965.8,510.8 967.0,506.3 969.2,511.7 971.7,513.0 974.2,510.0 976.3,512.5 978.0,507.5 979.7,511.7 981.7,506.7 984.2,505.8 986.3,507.5 988.3,505.0 990.8,509.2 993.3,509.7 995.8,506.7 998.3,504.2 1000.8,506.7 1003.3,514.2 1005.8,512.5 1008.3,518.3 1010.3,514.2 1012.5,512.5 1015.0,509.2 1017.5,508.3 1020.0,505.0 1023.3,500.8 1026.3,502.5 1029.2,504.2 1031.7,505.0 1033.3,507.5 1035.8,507.5 1038.3,510.0 1040.8,510.0 1042.5,518.3 1044.2,523.3 1045.8,518.3 1047.5,512.5 1049.2,518.3 1050.8,514.2 1052.5,510.0 1054.2,506.7 1055.8,501.7 1057.5,496.7 1059.2,497.5" fill="none" stroke="#C00000" stroke-width="2.1" stroke-linejoin="round" stroke-linecap="round"/>
<polyline points="583.0,485.0 585.0,483.3 588.0,481.7 590.3,478.3 592.5,476.7 594.2,468.3 595.8,463.3 597.5,463.3 599.2,471.7 600.8,472.5 602.0,469.2 603.7,479.2 605.8,479.2 607.5,476.7 609.2,480.0 610.8,473.3 613.0,478.3 615.0,475.8 617.5,475.3 619.2,463.3 620.8,457.5 622.5,466.3 624.2,445.8 625.8,445.0 627.5,430.8 628.7,439.2 630.8,443.3 632.5,440.0 634.2,429.7 635.8,435.8 637.5,443.3 639.7,430.8 641.7,429.2 643.3,425.8 644.7,417.5 646.7,423.3 648.3,442.5 650.8,442.0 652.5,440.8 653.7,430.8 655.3,420.0 657.0,415.0 658.0,419.2 659.2,417.5 660.8,429.2 662.5,439.2 664.2,422.5 665.8,433.3 667.5,436.7 668.7,443.3 670.8,433.3 672.0,433.3 673.3,449.2 674.7,452.5 677.0,451.7 679.2,438.3 681.7,431.7 683.3,446.7 684.7,441.7 686.3,438.3 688.3,452.5 690.0,454.2 692.0,442.5 693.7,432.5 696.3,435.0 698.0,441.7 699.2,454.2 700.3,453.3 702.5,443.3 704.7,443.7 706.7,442.5 708.3,443.3 709.7,436.7 711.7,440.0 713.0,447.5 713.3,461.7 715.0,449.2 718.7,448.7 720.0,454.2 722.5,460.0 723.7,462.5 725.8,455.8 729.2,454.7 731.7,459.2 734.2,463.3 735.0,466.3 737.5,463.3 739.2,468.3 741.3,467.0 743.3,456.7 745.0,453.3 746.7,457.5 747.5,452.5 749.2,458.7 750.8,455.8 751.7,458.3 753.3,455.0 755.8,451.7 757.0,447.5 758.7,438.3 760.3,449.2 761.7,450.0 763.3,435.0 765.0,430.8 767.5,437.5 769.2,448.3 770.3,453.3 771.7,452.5 773.7,459.2 775.3,457.5 777.5,468.3 779.7,457.5 781.3,465.0 783.3,462.5 785.8,465.8 788.7,468.3 790.8,465.0 793.3,471.7 795.0,467.5 797.5,468.3 800.0,470.0 803.0,461.7 804.7,466.7 807.0,471.7 809.2,477.5 811.3,480.8 813.3,482.5 815.0,486.7 817.5,488.3 819.2,492.5 820.8,488.3 822.5,485.0 824.7,488.3 826.7,485.0 829.2,484.2 831.7,485.8 834.2,483.3 836.3,480.8 838.3,485.0 840.8,485.8 843.3,487.5 845.8,490.0 848.0,490.8 850.0,485.8 852.5,480.0 854.2,476.7 855.8,479.2 857.5,474.2 859.7,480.0 861.7,478.3 863.7,480.8 865.8,478.3 867.5,474.2 869.7,477.5 871.7,480.0 874.2,480.8 876.7,485.0 878.3,487.0 881.7,486.7 883.0,483.3 884.7,486.7 887.5,485.0 888.7,459.2 889.7,460.0 891.3,483.3 893.3,485.8 895.8,490.8 897.5,485.0 900.0,486.7 902.5,485.0 904.2,489.2 906.7,490.8 909.2,493.3 911.7,486.7 914.2,490.0 916.7,494.2 918.3,490.0 920.0,494.2 921.7,495.3 923.3,491.7 925.8,490.8 928.0,486.7 930.0,489.2 932.0,485.8 934.7,486.3 936.7,490.0 939.2,486.7 941.3,491.7 943.7,493.3 945.8,494.2 948.0,490.0 950.0,490.8 952.0,492.5 954.2,486.7 956.7,485.0 958.7,489.2 960.8,488.3 963.3,481.7 965.8,480.0 968.0,480.8 970.3,485.8 972.0,480.8 973.3,489.2 975.8,486.3 978.0,490.8 979.7,491.7 981.7,488.3 984.2,482.5 985.8,485.0 987.5,481.7 990.0,486.7 992.5,489.2 995.0,485.8 997.5,484.2 999.7,488.3 1002.0,489.7 1004.2,483.3 1005.8,481.7 1008.0,484.2 1010.3,483.3 1013.3,489.2 1015.8,486.3 1018.0,484.2 1020.0,486.3 1022.5,483.3 1025.0,482.5 1027.0,476.7 1028.3,480.8 1030.8,479.2 1032.5,475.0 1034.7,475.0 1036.7,480.0 1038.3,482.5 1040.8,480.8 1043.0,485.0 1045.0,482.5 1046.7,483.3 1049.2,489.2 1051.7,485.0 1054.2,484.2 1056.7,484.2 1059.2,488.3" fill="none" stroke="#0070C0" stroke-width="2.1" stroke-linejoin="round" stroke-linecap="round"/>
<text x="26.10" y="634.16" font-size="11" font-weight="700" fill="#000" text-anchor="end">50</text>
<text x="26.10" y="664.96" font-size="11" font-weight="700" fill="#000" text-anchor="end">40</text>
<text x="26.10" y="695.76" font-size="11" font-weight="700" fill="#000" text-anchor="end">30</text>
<text x="26.10" y="726.56" font-size="11" font-weight="700" fill="#000" text-anchor="end">20</text>
<text x="26.10" y="757.36" font-size="11" font-weight="700" fill="#000" text-anchor="end">10</text>
<text x="26.10" y="788.16" font-size="11" font-weight="700" fill="#000" text-anchor="end">0</text>
<text x="29.30" y="819.16" font-size="11" font-weight="700" fill="#FF0000" text-anchor="end">(10)</text>
<path d="M39.7 785.8H523M39.7 785.8v4.2M150.0 785.8v4.2M260.3 785.8v4.2M370.6 785.8v4.2M480.9 785.8v4.2" stroke="#D9D9D9" stroke-width="1" fill="none"/>
<text x="40.00" y="834.96" font-size="11" font-weight="700" fill="#000" text-anchor="middle" textLength="47.20" lengthAdjust="spacingAndGlyphs">2023/6/1</text>
<text x="151.00" y="834.96" font-size="11" font-weight="700" fill="#000" text-anchor="middle" textLength="53.30" lengthAdjust="spacingAndGlyphs">2023/11/1</text>
<text x="261.00" y="834.96" font-size="11" font-weight="700" fill="#000" text-anchor="middle" textLength="47.20" lengthAdjust="spacingAndGlyphs">2024/4/1</text>
<text x="371.50" y="834.96" font-size="11" font-weight="700" fill="#000" text-anchor="middle" textLength="47.20" lengthAdjust="spacingAndGlyphs">2024/9/1</text>
<text x="481.70" y="834.96" font-size="11" font-weight="700" fill="#000" text-anchor="middle" textLength="47.20" lengthAdjust="spacingAndGlyphs">2025/2/1</text>
<path d="M134.8 647.4H161.39999999999998" stroke="#C00000" stroke-width="2.3"/>
<text x="164.70" y="652.26" font-size="11" font-weight="700" fill="#000" text-anchor="start" textLength="83.10" lengthAdjust="spacing">新加坡柴油裂解</text>
<path d="M281.8 647.4H307.9" stroke="#0070C0" stroke-width="2.3"/>
<text x="311.40" y="652.26" font-size="11" font-weight="700" fill="#000" text-anchor="start" textLength="82.20" lengthAdjust="spacing">新加坡汽油裂解</text>
<polyline points="39.2,735.0 40.0,744.2 41.7,740.0 43.0,735.0 44.7,730.8 46.7,730.0 48.3,724.2 50.0,733.3 51.3,723.3 53.3,721.7 54.2,734.2 55.3,718.3 57.0,730.0 59.2,719.2 60.8,730.0 63.3,730.8 64.2,736.7 65.0,725.8 67.0,723.3 68.7,726.7 70.8,720.8 73.3,724.2 75.0,713.3 77.5,711.7 79.2,705.0 80.8,698.3 82.5,693.3 84.2,672.5 85.3,685.0 87.0,680.0 88.3,694.2 90.3,672.5 91.7,680.0 93.3,682.5 95.0,684.2 97.0,677.5 98.3,672.5 99.7,680.0 101.3,672.5 103.0,663.3 104.7,673.3 105.8,688.3 108.3,690.8 110.3,683.3 112.0,680.0 114.2,679.2 115.8,670.0 117.5,680.0 119.2,692.5 121.3,678.3 123.0,681.7 124.2,696.7 125.8,680.8 127.5,681.7 129.2,668.3 130.3,680.0 131.7,696.7 132.5,703.3 135.0,687.5 136.3,699.2 138.3,687.5 140.0,699.2 140.8,706.7 143.7,694.2 145.3,713.3 147.5,704.2 149.2,705.8 152.0,691.7 153.7,700.0 155.0,699.2 156.3,718.3 158.0,714.2 160.0,706.7 161.7,698.0 162.5,720.8 165.0,706.7 167.5,715.0 170.0,712.5 172.5,715.8 175.0,707.5 177.0,713.3 179.2,714.2 180.3,705.8 181.7,720.0 183.3,713.3 185.3,714.2 187.5,717.5 190.0,723.3 191.7,715.8 194.2,710.0 195.8,725.8 197.5,719.2 199.2,711.7 200.8,717.5 202.5,706.7 205.8,707.5 207.5,709.2 209.7,717.5 210.8,708.3 212.5,715.8 214.7,705.8 215.8,704.2 217.0,695.0 219.2,704.2 221.3,700.0 223.0,701.7 225.3,696.3 226.7,708.3 228.3,712.5 230.0,715.0 231.3,709.2 233.0,718.3 235.0,716.7 236.7,725.0 238.7,717.5 240.3,720.0 242.5,715.0 244.2,721.7 245.8,719.2 247.5,729.2 250.0,721.7 252.5,726.7 255.0,732.5 257.5,738.3 260.0,733.3 261.7,728.3 263.7,730.8 265.8,726.7 268.3,732.5 270.0,736.7 271.3,727.5 272.0,740.0 274.2,742.5 276.3,745.0 278.3,743.3 280.8,741.7 283.3,740.8 285.8,740.0 287.5,735.8 289.2,741.7 291.7,739.2 294.2,741.7 296.7,739.2 299.2,745.0 301.7,737.5 303.3,739.2 305.3,732.5 307.0,744.2 309.2,740.8 310.8,745.0 313.0,736.7 315.0,738.3 317.0,740.8 318.3,735.8 320.3,740.0 322.5,735.8 325.0,733.3 326.7,730.8 328.3,736.7 330.8,735.8 333.3,739.2 335.8,736.7 337.5,743.3 339.2,736.7 341.3,740.0 343.3,735.0 345.8,738.3 347.5,730.8 349.2,728.3 350.8,737.5 352.5,743.3 355.0,750.0 357.0,736.7 359.2,742.5 361.3,740.0 363.3,746.7 365.8,750.8 367.5,759.2 369.2,746.7 370.8,750.0 372.0,738.3 373.7,745.0 375.8,742.5 378.0,750.0 380.0,753.3 381.7,758.3 384.2,754.2 386.3,753.3 387.5,746.7 390.0,745.8 392.0,755.0 393.3,744.2 394.7,756.7 397.0,739.2 398.7,750.8 400.8,744.2 403.0,748.3 405.0,742.5 407.0,755.0 409.2,741.7 410.8,746.7 413.0,738.3 414.2,730.8 416.7,735.0 418.7,739.2 420.8,732.5 422.0,731.7 423.3,738.3 425.8,740.0 427.5,732.5 429.7,735.8 431.7,732.5 434.2,740.0 436.7,736.7 438.0,742.5 440.0,737.5 442.0,740.8 444.2,734.2 446.3,735.8 448.3,732.5 450.8,734.2 451.3,730.8 453.3,737.5 455.8,735.8 458.3,731.7 460.3,735.0 463.0,731.7 464.7,740.0 466.7,731.7 468.3,736.7 470.0,726.7 472.5,724.7 474.2,730.0 476.7,733.3 479.2,736.7 481.3,734.2 483.0,731.7 484.2,737.5 486.3,734.2 489.2,727.5 490.8,732.5 493.3,730.8 495.0,726.7 497.5,735.0 498.7,728.3 500.0,740.0 502.5,731.7 503.7,735.0 505.3,730.8 507.0,735.0 508.7,732.5 510.0,740.0 512.5,736.7 514.2,740.0 516.7,740.8 519.2,741.7 521.3,740.0" fill="none" stroke="#C00000" stroke-width="2.1" stroke-linejoin="round" stroke-linecap="round"/>
<polyline points="39.2,746.7 40.0,753.3 41.3,748.3 42.5,754.2 44.2,746.7 45.8,736.7 47.5,735.0 49.2,743.3 50.0,750.0 51.7,744.2 53.3,742.5 54.7,750.0 55.8,740.0 57.0,748.3 59.2,741.7 60.3,749.2 62.0,750.0 63.7,758.3 64.7,762.5 65.8,757.5 68.7,754.2 70.8,741.7 73.3,738.3 75.3,733.3 77.0,733.3 78.7,735.8 80.8,734.2 83.0,735.0 84.2,744.2 85.3,753.3 87.5,745.0 89.2,736.7 90.8,727.5 92.5,731.7 94.2,726.7 96.3,735.0 98.3,730.0 100.0,721.7 102.0,721.3 103.3,723.3 105.0,733.3 107.0,738.3 108.7,742.5 110.0,749.2 111.3,743.3 114.2,740.0 115.8,730.0 117.5,735.0 119.2,741.7 120.8,750.0 123.0,755.0 124.2,765.0 125.8,770.8 127.0,775.0 128.3,768.3 130.0,771.7 132.5,768.3 134.2,770.8 135.0,762.5 136.3,775.0 137.0,779.2 139.2,773.3 140.8,772.5 143.0,765.0 144.7,762.5 145.8,770.0 148.0,760.8 149.7,764.2 151.3,751.7 153.0,750.0 154.2,755.0 155.8,745.8 157.5,749.2 160.0,748.3 161.3,743.3 161.7,767.5 163.3,760.0 165.0,750.8 166.7,749.2 169.2,753.3 170.8,755.0 172.5,750.8 174.2,756.7 175.8,746.7 177.5,755.0 179.2,756.7 180.3,747.5 181.7,758.3 183.3,750.0 185.3,753.3 187.5,758.3 190.0,764.2 191.7,753.3 193.7,750.8 195.3,748.3 196.7,760.8 198.3,753.3 199.7,760.0 200.8,752.5 202.5,748.3 205.8,749.2 207.5,741.7 209.2,746.7 210.8,736.7 212.5,741.7 213.7,734.2 215.0,730.0 216.7,736.7 218.3,735.8 220.0,740.0 222.0,741.7 224.2,737.5 225.8,730.0 226.7,742.5 229.2,746.7 231.3,749.2 233.0,739.2 235.0,746.7 236.7,744.2 238.7,750.0 240.8,750.8 243.0,744.2 244.7,750.0 246.7,753.3 248.3,746.7 250.8,743.3 253.0,736.7 255.0,740.8 257.5,745.0 259.7,738.3 261.7,749.2 264.2,749.7 266.3,748.3 268.0,741.7 270.0,740.0 270.8,735.0 272.5,742.5 275.0,746.7 277.5,746.7 280.0,744.2 282.5,745.8 285.0,750.0 287.0,760.8 288.7,757.5 291.3,760.0 293.3,757.5 295.3,755.0 297.5,757.5 299.2,765.0 301.7,769.2 303.3,770.0 305.0,760.8 307.0,767.5 309.2,766.7 311.7,773.3 313.7,774.2 316.3,776.7 318.3,768.3 320.3,770.8 322.5,767.5 324.7,765.0 326.7,757.5 328.3,762.5 330.8,760.0 332.5,765.0 334.7,759.2 336.7,763.3 338.7,754.2 340.8,760.0 343.0,760.8 345.0,753.3 347.0,751.7 349.2,750.8 351.7,768.3 354.2,769.2 355.8,764.2 358.0,775.0 360.0,763.3 362.5,762.5 364.2,771.7 366.7,770.0 368.0,778.3 369.2,764.2 370.8,770.0 372.0,755.0 373.7,768.3 375.3,769.2 377.0,763.3 379.2,771.7 381.7,774.2 384.2,764.2 386.3,762.5 388.3,768.3 390.8,770.0 392.5,784.2 394.7,770.0 395.8,778.3 397.5,766.7 399.2,776.7 401.3,770.0 404.2,760.0 406.3,770.0 408.0,775.8 410.0,769.2 412.0,771.7 414.2,765.8 416.7,769.2 418.7,770.8 420.8,765.0 423.0,772.5 425.0,770.0 426.7,772.5 428.7,765.8 430.3,767.5 432.5,758.3 434.2,764.2 436.3,760.0 438.0,754.2 440.0,759.2 442.5,756.7 444.2,754.7 446.7,756.7 448.7,758.3 450.8,763.3 453.3,760.8 455.3,764.2 458.0,762.5 460.8,762.5 463.3,765.0 465.0,770.8 467.0,766.7 469.2,770.8 471.3,769.2 473.7,771.7 475.8,764.2 478.0,760.0 480.3,759.2 482.5,753.3 483.7,761.7 485.3,756.7 488.0,755.8 490.0,750.8 492.5,750.0 495.0,751.7 498.0,750.0 499.7,757.5 501.3,753.3 503.3,760.8 505.3,763.3 508.0,762.5 510.0,760.0 512.0,756.7 513.3,754.2 515.0,760.0 517.5,759.2 519.7,757.5 521.3,758.3" fill="none" stroke="#0070C0" stroke-width="2.1" stroke-linejoin="round" stroke-linecap="round"/>
<text x="579.40" y="633.96" font-size="11" font-weight="700" fill="#000" text-anchor="end" textLength="26.90" lengthAdjust="spacingAndGlyphs">2,000</text>
<text x="579.40" y="680.56" font-size="11" font-weight="700" fill="#000" text-anchor="end" textLength="26.90" lengthAdjust="spacingAndGlyphs">1,500</text>
<text x="579.40" y="727.26" font-size="11" font-weight="700" fill="#000" text-anchor="end" textLength="26.90" lengthAdjust="spacingAndGlyphs">1,000</text>
<text x="579.20" y="773.86" font-size="11" font-weight="700" fill="#000" text-anchor="end">500</text>
<text x="579.20" y="820.56" font-size="11" font-weight="700" fill="#000" text-anchor="end">0</text>
<path d="M593.3 817.5H1062.5M593.3 817.5v4.2M679.9 817.5v4.2M766.5 817.5v4.2M853.1 817.5v4.2M939.7 817.5v4.2M1026.3 817.5v4.2" stroke="#D9D9D9" stroke-width="1" fill="none"/>
<text x="593.20" y="836.16" font-size="11" font-weight="700" fill="#000" text-anchor="middle" textLength="53.30" lengthAdjust="spacingAndGlyphs">2023/6/10</text>
<text x="680.00" y="836.16" font-size="11" font-weight="700" fill="#000" text-anchor="middle" textLength="59.40" lengthAdjust="spacingAndGlyphs">2023/10/10</text>
<text x="768.00" y="836.16" font-size="11" font-weight="700" fill="#000" text-anchor="middle" textLength="53.30" lengthAdjust="spacingAndGlyphs">2024/2/10</text>
<text x="854.50" y="836.16" font-size="11" font-weight="700" fill="#000" text-anchor="middle" textLength="53.30" lengthAdjust="spacingAndGlyphs">2024/6/10</text>
<text x="940.20" y="836.16" font-size="11" font-weight="700" fill="#000" text-anchor="middle" textLength="59.40" lengthAdjust="spacingAndGlyphs">2024/10/10</text>
<text x="1028.00" y="836.16" font-size="11" font-weight="700" fill="#000" text-anchor="middle" textLength="53.30" lengthAdjust="spacingAndGlyphs">2025/2/10</text>
<path d="M738.5 640.1H765.0" stroke="#0070C0" stroke-width="2.3"/>
<text x="768.20" y="644.96" font-size="11" font-weight="700" fill="#000" text-anchor="start" textLength="81.10" lengthAdjust="spacing">地炼汽油裂解差</text>
<path d="M892.5 640.1H919.2" stroke="#C00000" stroke-width="2.3"/>
<text x="921.20" y="644.96" font-size="11" font-weight="700" fill="#000" text-anchor="start" textLength="82.60" lengthAdjust="spacing">地炼柴油裂解差</text>
<polyline points="593.0,700.0 594.2,687.5 595.3,684.2 596.7,699.2 598.3,705.0 599.7,702.5 600.8,709.2 602.5,705.8 603.7,703.3 605.3,691.7 606.3,705.0 607.5,709.2 608.7,689.2 609.7,684.2 611.3,693.3 612.5,710.8 614.2,714.2 615.3,723.3 617.0,715.8 618.7,721.7 620.3,729.2 622.5,732.5 624.2,734.2 625.8,720.8 627.0,730.0 629.2,738.3 631.3,724.2 632.5,731.7 634.2,718.3 635.8,730.0 637.0,717.5 638.3,718.3 640.8,706.7 642.5,710.8 644.2,709.2 645.8,705.8 647.5,713.3 649.2,713.0 650.8,718.3 652.5,728.3 654.2,728.3 655.8,734.2 657.5,740.0 659.2,743.3 660.8,747.5 662.5,753.3 664.2,748.3 665.8,743.0 667.5,748.3 669.2,752.5 670.8,760.0 680.8,733.3 682.0,743.3 683.3,763.3 685.0,773.3 687.0,778.3 689.2,782.5 690.8,795.8 692.0,800.0 693.7,790.8 695.3,784.2 696.3,790.0 697.5,773.3 699.2,775.0 700.3,753.3 702.0,765.8 703.7,765.0 705.8,750.8 708.0,756.7 709.2,750.8 711.7,750.0 714.2,745.0 715.8,746.7 717.0,726.7 718.7,724.2 720.3,710.8 722.0,716.7 724.2,705.0 725.3,703.7 726.7,725.8 728.0,733.3 730.0,742.5 731.7,737.5 734.7,736.3 735.8,716.7 737.5,708.3 739.7,703.7 740.3,713.3 742.0,706.7 743.7,700.8 745.0,711.7 747.0,714.2 749.2,716.7 750.8,725.0 752.5,723.3 754.2,730.0 756.3,735.0 758.3,729.2 759.7,728.3 761.3,708.3 763.3,710.0 764.7,707.5 766.3,717.5 769.2,718.3 773.0,718.7 774.7,713.3 776.3,724.2 778.3,730.0 779.7,733.3 782.0,731.7 784.2,727.5 786.3,731.7 788.7,730.0 790.3,741.7 792.5,746.7 794.2,752.5 795.8,743.3 798.0,738.3 799.7,732.5 800.8,740.0 802.5,735.8 805.3,734.2 807.5,735.0 809.7,731.7 810.3,735.8 812.5,708.3 814.2,704.2 815.0,695.8 816.3,704.2 818.0,705.8 819.2,717.5 820.3,716.7 822.0,724.2 824.2,729.2 826.3,718.3 828.3,712.0 830.3,716.7 832.5,723.3 834.7,726.7 835.8,735.0 838.0,732.5 839.7,724.2 840.8,722.5 842.0,730.8 843.7,731.7 845.3,716.7 847.5,710.8 848.7,703.7 850.0,713.3 852.0,717.5 854.2,724.2 855.8,729.2 857.5,734.2 859.2,739.7 860.8,735.8 862.5,739.2 864.7,743.3 866.7,745.8 868.3,741.7 869.7,746.7 871.7,743.3 873.3,737.0 875.0,738.3 876.7,732.5 878.3,735.0 879.7,727.5 880.8,728.3 882.0,721.7 884.2,722.5 885.3,717.5 886.7,718.3 888.7,708.3 890.0,713.3 891.3,694.2 893.7,695.8 894.7,708.3 896.3,710.0 898.0,726.7 899.7,715.0 900.8,722.5 902.5,714.2 904.2,713.0 905.8,726.7 908.0,738.3 909.2,729.2 910.8,738.3 912.0,731.7 913.7,722.5 915.8,716.7 916.7,725.0 918.7,713.0 920.0,728.3 921.7,733.3 923.3,743.3 925.3,755.0 927.5,758.3 928.7,766.7 929.7,753.3 932.0,757.5 934.2,763.3 936.7,770.0 939.2,775.0 940.3,793.3 942.0,795.0 943.7,788.3 945.3,795.0 947.0,801.7 948.3,809.2 950.0,808.3 951.3,793.3 952.5,783.3 954.2,791.7 955.8,798.3 957.5,804.2 959.2,809.2 960.8,800.0 963.0,795.8 964.2,798.3 965.3,785.8 966.7,796.7 968.3,785.0 970.0,794.2 972.0,776.7 974.2,777.5 975.8,766.7 977.5,771.7 979.2,758.3 981.3,750.8 983.3,745.8 985.8,746.7 988.3,742.5 990.8,740.0 993.3,735.8 995.0,734.2 996.7,740.0 999.7,742.5 1002.0,735.8 1004.2,727.5 1005.3,730.0 1007.5,688.3 1008.7,708.3 1010.0,705.0 1011.3,713.3 1012.5,716.7 1014.2,711.7 1016.3,695.0 1018.0,685.8 1020.8,677.5 1023.3,668.3 1024.7,667.5 1026.3,676.7 1028.0,683.3 1029.2,690.8 1031.3,701.7 1033.3,712.5 1034.7,704.2 1035.8,714.2 1037.5,715.8 1039.2,707.5 1040.8,708.3 1043.0,701.7 1044.7,710.0 1046.3,707.5 1048.0,719.2 1049.2,713.3 1050.8,718.3 1052.5,719.2 1054.2,725.8 1056.7,733.3 1058.0,737.5 1059.7,731.7 1060.3,726.7" fill="none" stroke="#0070C0" stroke-width="2.1" stroke-linejoin="round" stroke-linecap="round"/>
<polyline points="593.0,741.7 594.2,730.0 595.3,726.7 596.3,746.7 597.5,754.2 599.7,758.3 600.8,770.0 602.5,768.3 604.2,764.2 605.3,755.8 606.3,766.7 608.0,770.8 609.7,763.3 610.8,770.8 612.5,782.5 613.7,776.7 615.0,778.3 616.7,769.2 618.3,760.0 620.3,757.5 621.7,742.5 623.7,755.0 625.8,736.7 627.5,750.8 629.2,757.5 631.3,734.2 633.0,741.7 634.2,735.8 635.8,747.5 637.0,736.7 639.2,735.8 641.3,728.3 642.0,734.2 644.2,732.5 645.8,731.7 647.0,738.3 648.7,735.8 650.8,742.5 652.0,746.7 653.3,742.5 655.0,749.2 656.7,746.7 658.3,754.2 660.3,760.8 661.7,765.0 664.2,756.7 665.8,752.5 667.5,755.0 669.2,766.7 670.8,778.3 672.5,768.3 680.8,740.8 681.7,773.3 683.3,766.7 684.7,759.2 685.8,772.5 688.3,773.3 690.0,765.0 691.3,777.5 693.3,768.3 694.7,756.7 696.7,749.2 698.3,755.8 700.3,733.3 702.0,740.0 703.7,750.8 705.3,740.0 706.7,727.5 708.3,745.8 710.3,750.8 712.5,747.5 714.2,740.0 715.8,747.5 717.0,733.3 718.7,724.2 720.3,711.7 722.0,718.3 724.2,715.0 725.3,705.0 726.3,726.7 728.0,738.3 730.0,751.7 732.5,755.8 734.7,760.8 735.8,750.0 737.5,740.0 739.7,738.3 740.3,750.8 741.7,743.3 743.7,738.3 745.0,749.2 747.5,750.0 749.2,750.8 750.8,756.7 752.5,760.0 754.2,766.7 756.3,776.7 758.3,773.3 759.7,771.7 761.3,755.8 762.5,754.2 764.7,760.0 766.3,773.3 769.2,776.7 772.5,781.7 774.2,783.3 775.3,788.3 776.7,778.3 778.3,781.7 780.3,776.7 782.5,770.0 784.2,763.3 786.3,761.7 788.7,756.7 789.7,755.0 791.3,760.0 793.3,766.7 795.3,760.8 797.5,768.3 799.7,770.0 800.8,778.3 803.0,776.7 805.3,781.7 808.0,785.0 810.0,780.8 812.5,771.7 814.2,764.2 815.3,761.3 817.5,766.7 819.2,775.8 820.3,773.3 822.0,780.8 824.2,784.2 826.3,775.0 828.3,766.7 830.3,765.8 831.7,768.3 833.3,764.2 835.8,772.5 838.3,769.2 839.7,761.7 840.8,759.2 842.5,763.3 843.7,768.3 845.8,751.7 847.5,741.7 848.7,735.8 850.0,741.7 851.7,746.7 853.7,755.0 855.8,759.2 858.0,768.3 860.0,771.7 861.7,774.2 863.7,770.0 865.3,778.3 868.0,775.0 870.3,782.5 873.0,775.0 875.0,776.7 877.5,775.0 879.2,779.2 880.8,766.7 882.5,765.8 884.2,760.8 885.3,768.3 887.0,761.7 888.7,769.2 889.7,756.7 891.3,749.2 893.3,750.0 894.7,760.0 896.3,766.7 898.0,780.0 899.7,768.3 900.8,774.2 902.5,761.7 904.2,758.3 905.8,768.3 908.0,778.3 909.7,766.7 911.7,765.8 913.7,755.0 915.0,741.7 916.3,745.8 917.5,740.0 918.7,736.7 920.0,751.7 921.7,753.3 923.3,760.0 924.7,777.5 926.3,780.0 928.3,788.3 929.7,769.2 931.7,770.0 934.2,775.0 936.7,781.7 938.7,784.2 939.7,797.5 941.7,783.3 943.3,771.7 945.3,768.3 947.0,773.3 948.3,781.7 950.0,771.7 952.0,750.8 954.2,757.5 956.3,758.3 957.5,765.0 959.2,766.7 960.8,756.7 963.0,754.2 964.2,758.3 965.3,750.8 967.0,765.0 968.7,760.0 969.7,766.7 972.0,750.8 974.2,756.7 976.3,746.7 978.0,754.2 979.7,739.2 981.7,741.7 983.3,743.0 985.0,755.0 987.5,754.7 990.8,753.3 992.5,757.5 994.7,756.7 996.7,766.7 999.7,778.3 1002.0,777.5 1004.2,770.8 1005.3,776.7 1007.5,745.8 1008.7,775.0 1010.3,774.2 1012.5,782.5 1015.0,780.8 1017.5,771.7 1020.0,763.3 1022.5,756.7 1024.2,751.7 1026.3,760.0 1028.0,767.5 1029.2,759.2 1031.7,758.3 1033.3,757.5 1035.3,750.8 1037.0,752.5 1038.7,742.5 1040.3,745.8 1042.5,734.2 1043.7,730.8 1045.0,735.8 1047.0,732.5 1048.7,742.5 1050.0,741.7 1051.7,746.7 1053.0,745.8 1054.2,755.0 1055.3,755.8 1057.0,763.3" fill="none" stroke="#C00000" stroke-width="2.1" stroke-linejoin="round" stroke-linecap="round"/>
<text x="22.10" y="887.86" font-size="11" font-weight="700" fill="#000" text-anchor="end">50</text>
<text x="22.10" y="906.66" font-size="11" font-weight="700" fill="#000" text-anchor="end">45</text>
<text x="22.10" y="925.46" font-size="11" font-weight="700" fill="#000" text-anchor="end">40</text>
<text x="22.10" y="944.26" font-size="11" font-weight="700" fill="#000" text-anchor="end">35</text>
<text x="22.10" y="963.06" font-size="11" font-weight="700" fill="#000" text-anchor="end">30</text>
<text x="22.10" y="981.86" font-size="11" font-weight="700" fill="#000" text-anchor="end">25</text>
<text x="22.10" y="1000.66" font-size="11" font-weight="700" fill="#000" text-anchor="end">20</text>
<text x="22.10" y="1019.46" font-size="11" font-weight="700" fill="#000" text-anchor="end">15</text>
<text x="22.10" y="1038.26" font-size="11" font-weight="700" fill="#000" text-anchor="end">10</text>
<text x="22.10" y="1057.06" font-size="11" font-weight="700" fill="#000" text-anchor="end">5</text>
<text x="22.10" y="1075.86" font-size="11" font-weight="700" fill="#000" text-anchor="end">0</text>
<path d="M35.3 1073.1H532M35.3 1073.1v4.2M126.0 1073.1v4.2M216.7 1073.1v4.2M307.4 1073.1v4.2M398.1 1073.1v4.2M488.8 1073.1v4.2" stroke="#D9D9D9" stroke-width="1" fill="none"/>
<text x="36.00" y="1092.56" font-size="11" font-weight="700" fill="#000" text-anchor="middle" textLength="47.20" lengthAdjust="spacingAndGlyphs">2023/6/1</text>
<text x="127.20" y="1092.56" font-size="11" font-weight="700" fill="#000" text-anchor="middle" textLength="53.30" lengthAdjust="spacingAndGlyphs">2023/10/1</text>
<text x="218.20" y="1092.56" font-size="11" font-weight="700" fill="#000" text-anchor="middle" textLength="47.20" lengthAdjust="spacingAndGlyphs">2024/2/1</text>
<text x="307.20" y="1092.56" font-size="11" font-weight="700" fill="#000" text-anchor="middle" textLength="47.20" lengthAdjust="spacingAndGlyphs">2024/6/1</text>
<text x="398.20" y="1092.56" font-size="11" font-weight="700" fill="#000" text-anchor="middle" textLength="53.30" lengthAdjust="spacingAndGlyphs">2024/10/1</text>
<text x="489.00" y="1092.56" font-size="11" font-weight="700" fill="#000" text-anchor="middle" textLength="47.20" lengthAdjust="spacingAndGlyphs">2025/2/1</text>
<polyline points="35.3,1000.8 36.7,1006.3 39.2,1002.5 40.8,999.2 41.7,994.2 43.7,997.5 45.8,994.2 47.5,985.0 49.7,983.0 50.8,993.3 52.5,996.7 53.7,994.2 55.0,988.3 56.3,1000.8 58.3,999.2 60.3,1001.7 62.0,1005.0 63.7,998.3 65.8,997.5 67.5,1002.0 68.7,996.7 70.8,995.8 71.7,985.0 73.3,977.5 75.0,970.0 76.3,979.2 77.5,960.0 79.2,957.5 80.8,945.8 82.5,960.0 84.2,959.2 85.8,963.7 87.0,950.8 89.2,945.8 91.3,955.0 92.5,942.5 94.7,943.3 97.5,940.0 98.3,930.0 100.8,936.7 102.0,950.0 103.7,962.5 105.3,965.0 106.7,960.0 108.0,970.0 109.7,945.0 111.7,940.3 114.2,943.3 116.3,963.3 117.5,964.2 118.7,951.7 120.0,965.0 122.0,975.0 123.3,980.8 124.7,975.8 127.0,977.5 128.3,985.8 129.7,995.8 132.5,997.0 133.7,985.8 135.8,985.0 138.0,985.8 139.2,991.7 140.3,978.3 142.5,974.2 144.2,994.2 145.3,990.0 148.0,985.8 149.2,963.7 150.8,977.5 153.7,978.3 155.8,990.0 158.0,983.3 159.7,979.7 161.3,984.2 163.3,982.5 165.3,990.0 166.7,974.7 168.7,978.3 170.3,985.0 170.8,1002.5 172.0,984.2 175.0,983.7 176.3,993.3 178.3,998.3 180.3,1003.3 182.5,997.5 185.3,995.8 187.5,987.5 190.0,991.7 191.7,994.2 193.0,1000.8 195.3,996.7 197.5,1001.7 199.7,1003.0 202.0,991.7 204.2,990.8 205.3,986.7 207.5,995.0 209.2,992.5 210.3,995.8 211.3,987.5 213.0,994.2 215.0,984.2 216.3,985.8 217.2,971.7 218.7,984.2 220.3,985.8 221.7,975.0 223.0,968.7 225.8,971.7 227.5,976.7 229.2,985.8 231.3,986.7 233.0,994.2 235.0,988.3 237.0,989.2 238.0,1001.3 239.2,985.0 240.8,992.5 242.5,998.3 244.2,995.8 246.3,997.5 248.3,1002.0 250.8,997.0 252.5,1002.5 254.7,992.5 257.0,990.8 259.2,992.0 261.7,991.3 263.7,983.3 265.8,990.0 267.0,993.3 268.7,1000.3 270.3,990.8 271.7,998.3 273.3,990.8 274.7,1005.0 277.0,1007.5 278.7,1006.7 279.7,1014.2 281.3,1007.5 283.0,1006.7 284.2,1002.5 285.8,1008.0 288.3,1006.3 290.8,1006.7 293.0,1010.8 294.7,1012.5 296.7,1006.7 299.2,1005.8 301.3,1014.2 303.7,1015.0 305.8,1020.0 308.0,1017.5 309.7,1022.0 311.7,1015.0 313.7,1016.7 315.8,1014.2 318.3,1018.3 320.3,1010.8 321.3,1010.0 323.0,1015.8 324.7,1010.8 326.7,1015.8 328.0,1011.7 329.7,1015.8 330.3,1006.7 331.7,1015.0 333.0,1006.7 335.3,1013.3 337.5,1011.7 339.7,1015.8 341.7,1020.8 344.2,1020.0 346.3,1013.3 348.0,1018.3 350.8,1015.0 352.5,1010.0 353.7,992.5 355.3,1014.2 357.5,1016.7 360.0,1020.8 361.3,1013.3 363.3,1018.3 365.0,1015.0 366.7,1022.5 369.2,1026.7 371.7,1030.8 373.0,1033.7 375.3,1030.0 377.0,1026.7 378.7,1031.7 380.8,1034.2 382.5,1025.8 383.7,1033.3 385.8,1029.2 387.5,1030.8 389.7,1026.7 391.7,1030.0 393.3,1024.2 395.3,1023.0 396.3,1029.2 397.5,1022.5 398.7,1031.7 400.8,1029.2 403.0,1027.5 404.7,1021.7 406.7,1025.8 408.7,1026.7 410.8,1028.3 412.5,1030.8 413.7,1027.5 415.8,1029.2 417.5,1030.0 418.7,1034.2 420.8,1029.2 422.0,1030.8 423.3,1026.3 425.0,1034.2 427.0,1030.8 429.2,1029.2 430.3,1020.8 432.5,1021.7 434.2,1020.0 436.3,1024.2 438.3,1028.3 439.7,1021.7 440.8,1030.0 442.5,1027.5 444.2,1028.3 445.8,1032.5 448.0,1029.2 450.0,1025.0 452.0,1022.5 453.7,1025.0 455.0,1020.0 456.3,1025.0 458.3,1026.7 460.3,1029.2 462.5,1025.8 464.2,1023.3 466.3,1022.5 468.0,1026.7 470.0,1025.8 470.8,1030.8 473.0,1028.3 475.0,1025.0 476.7,1030.0 478.7,1027.5 480.8,1028.3 483.0,1029.2 485.0,1025.8 487.0,1024.2 488.3,1027.5 490.0,1021.7 492.0,1022.5 494.2,1020.0 495.8,1019.2 496.7,1015.0 498.0,1020.0 500.3,1017.5 501.7,1019.2 503.3,1015.3 505.3,1018.3 507.5,1021.7 509.2,1024.2 511.3,1022.5 512.5,1030.0 514.7,1030.8 517.0,1027.5 519.2,1035.0 521.3,1028.3 523.3,1025.0 525.8,1021.7 528.0,1018.3 529.2,1020.8" fill="none" stroke="#0070C0" stroke-width="3.2" stroke-linejoin="round" stroke-linecap="round"/>
<text x="556.40" y="885.06" font-size="11" font-weight="700" fill="#000" text-anchor="end">60</text>
<text x="556.40" y="917.26" font-size="11" font-weight="700" fill="#000" text-anchor="end">50</text>
<text x="556.40" y="949.46" font-size="11" font-weight="700" fill="#000" text-anchor="end">40</text>
<text x="556.40" y="981.66" font-size="11" font-weight="700" fill="#000" text-anchor="end">30</text>
<text x="556.40" y="1013.86" font-size="11" font-weight="700" fill="#000" text-anchor="end">20</text>
<text x="556.40" y="1046.06" font-size="11" font-weight="700" fill="#000" text-anchor="end">10</text>
<text x="556.40" y="1078.26" font-size="11" font-weight="700" fill="#000" text-anchor="end">0</text>
<path d="M565.2 1075.5H1051M565.2 1075.5v4.2M654.5 1075.5v4.2M743.8 1075.5v4.2M833.1 1075.5v4.2M922.4 1075.5v4.2M1011.7 1075.5v4.2" stroke="#D9D9D9" stroke-width="1" fill="none"/>
<text x="567.20" y="1094.26" font-size="11" font-weight="700" fill="#000" text-anchor="middle" textLength="47.20" lengthAdjust="spacingAndGlyphs">2023/6/2</text>
<text x="655.70" y="1094.26" font-size="11" font-weight="700" fill="#000" text-anchor="middle" textLength="53.30" lengthAdjust="spacingAndGlyphs">2023/10/2</text>
<text x="745.50" y="1094.26" font-size="11" font-weight="700" fill="#000" text-anchor="middle" textLength="47.20" lengthAdjust="spacingAndGlyphs">2024/2/2</text>
<text x="834.00" y="1094.26" font-size="11" font-weight="700" fill="#000" text-anchor="middle" textLength="47.20" lengthAdjust="spacingAndGlyphs">2024/6/2</text>
<text x="922.70" y="1094.26" font-size="11" font-weight="700" fill="#000" text-anchor="middle" textLength="53.30" lengthAdjust="spacingAndGlyphs">2024/10/2</text>
<text x="1013.20" y="1094.26" font-size="11" font-weight="700" fill="#000" text-anchor="middle" textLength="47.20" lengthAdjust="spacingAndGlyphs">2025/2/2</text>
<polyline points="565.3,964.2 566.3,953.3 568.7,955.0 570.0,943.7 572.0,941.7 574.7,943.3 575.8,950.0 577.0,943.3 579.2,949.2 580.8,958.3 582.5,960.8 584.7,956.7 586.3,955.0 588.0,961.7 589.7,970.0 590.8,961.7 593.0,960.8 595.0,957.0 597.0,967.5 599.2,964.2 600.8,955.0 603.0,946.7 604.7,943.7 605.8,951.7 607.0,943.7 609.7,938.7 612.0,950.8 614.2,944.2 616.3,932.0 618.7,932.5 620.3,937.5 621.7,932.5 623.7,937.0 625.8,934.2 628.0,920.8 629.7,930.8 630.8,934.2 633.0,972.0 635.0,953.3 637.0,948.3 639.2,938.3 640.8,933.3 642.5,932.5 643.7,945.0 645.8,951.7 647.5,952.5 648.3,960.0 650.3,967.5 652.5,963.0 654.2,967.5 655.8,968.3 658.0,990.8 659.7,987.5 661.7,980.0 664.2,978.3 666.3,976.3 668.3,983.3 670.0,980.0 672.5,996.7 674.7,984.2 676.3,979.2 678.3,1027.5 680.8,985.0 682.5,992.5 685.0,988.3 686.7,986.7 688.3,982.5 690.8,980.3 693.3,975.0 695.8,974.2 697.5,980.0 699.2,989.2 701.3,974.2 703.7,981.7 705.8,983.0 707.0,990.0 709.2,980.3 711.7,982.5 713.7,990.0 715.8,996.7 718.0,1000.0 720.0,995.0 722.5,987.5 724.7,996.3 726.7,993.3 728.7,987.5 729.2,995.0 731.3,991.7 735.0,989.2 737.5,987.5 739.2,988.3 740.8,984.7 743.0,988.3 745.3,993.3 747.0,986.7 748.3,978.0 750.8,977.5 752.5,976.7 753.7,981.7 755.0,992.5 757.5,996.7 759.7,995.0 762.0,992.5 764.2,1000.8 765.3,994.2 767.5,995.0 769.2,1000.8 771.3,999.2 773.7,990.0 775.8,986.7 778.0,987.5 779.2,991.7 781.3,983.3 783.0,990.8 784.2,998.3 785.8,996.7 788.0,985.0 790.0,981.7 791.7,987.5 793.7,984.2 795.8,982.5 798.3,981.7 800.3,989.2 802.0,987.5 804.7,981.7 806.7,982.5 808.7,981.7 810.3,987.5 812.5,989.2 815.0,994.2 817.5,996.7 819.7,999.7 821.7,994.2 824.2,995.8 826.3,990.8 828.0,995.8 829.7,998.3 831.3,1006.3 833.0,1000.8 835.8,1000.0 838.3,1002.5 841.7,1005.8 844.2,1004.2 846.7,1001.7 848.7,1003.3 850.8,997.5 853.0,1000.0 855.0,995.3 857.5,998.3 859.7,1000.0 861.7,1005.0 864.2,1006.7 866.3,1010.0 868.3,1006.7 870.8,1000.0 873.3,999.2 875.8,1000.0 877.5,1002.5 880.0,997.0 882.0,1002.5 884.2,1007.5 886.7,1011.7 889.2,1012.5 891.3,1010.0 893.0,1008.3 894.7,1012.5 896.7,1017.5 898.7,1015.8 901.3,1028.3 903.0,1020.0 905.8,1018.3 908.3,1022.5 911.7,1024.2 914.2,1020.0 915.8,1021.7 918.3,1017.5 920.8,1017.5 922.5,1013.3 925.0,1015.8 927.5,1014.2 930.0,1012.0 932.5,1012.5 935.8,1015.0 938.7,1010.0 940.8,1009.2 943.3,1013.3 945.0,1010.0 947.0,1009.2 948.7,1012.0 950.8,1010.0 953.3,1009.7 955.8,1007.5 957.5,1004.2 959.2,1008.3 961.7,1008.3 963.7,1014.2 965.8,1011.7 968.0,1011.3 969.2,1021.7 971.7,1016.7 974.2,1015.0 976.3,1019.2 978.3,1022.5 979.7,1018.3 981.7,1017.5 984.2,1021.7 985.8,1022.5 989.2,1015.0 991.7,1019.2 994.2,1021.3 995.3,1017.5 997.5,1021.7 998.7,1014.2 1000.3,1010.0 1002.5,1010.8 1004.2,1014.2 1005.8,1009.2 1008.3,1008.3 1010.0,1005.0 1012.5,1006.7 1014.2,1003.3 1016.3,995.8 1018.3,999.2 1019.7,985.8 1020.8,996.7 1023.0,999.2 1025.8,1003.3 1028.0,1003.3 1029.2,1016.7 1030.8,1021.7 1033.0,1016.7 1034.7,1011.7 1036.3,1016.7 1038.0,1014.2 1040.8,1018.3 1043.0,1015.0 1044.7,1012.0 1047.0,1013.3 1049.2,1014.2" fill="none" stroke="#C00000" stroke-width="3.2" stroke-linejoin="round" stroke-linecap="round"/>
<g fill="#b0b0b0">
<path d="M688.2 1063.5 L687.6 1069.2 L694 1066.3Z"/>
<ellipse cx="697.4" cy="1054.4" rx="14.7" ry="12.4"/>
<ellipse cx="711.6" cy="1064.2" rx="13.4" ry="11.5" fill="#fff"/>
<path d="M717.0 1073.0 L720.2 1076.2 L714.4 1074.6Z"/>
<ellipse cx="711.7" cy="1064.3" rx="12.2" ry="10.4"/>
<circle cx="692.8" cy="1050.9" r="2" fill="#fff"/><circle cx="702.5" cy="1050.9" r="2" fill="#fff"/>
<circle cx="707.4" cy="1061.2" r="1.7" fill="#fff"/><circle cx="715.8" cy="1061.2" r="1.7" fill="#fff"/>
</g>
<text x="731.20" y="1071.00" font-size="29" font-weight="400" fill="#b0b0b0" text-anchor="start" textLength="313.50" lengthAdjust="spacingAndGlyphs">公众号 · 能源研发中心</text>
</svg>
</body></html>
